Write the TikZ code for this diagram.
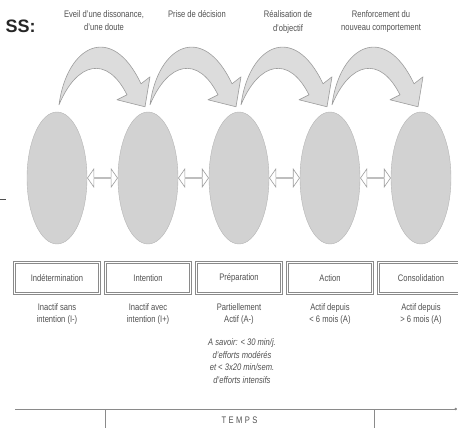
\documentclass[tikz,border=0pt]{standalone}
\usepackage{fontspec}
\setmainfont{Liberation Sans}[FakeStretch=0.8]
\newfontfamily\headfont{Liberation Sans}
\usetikzlibrary{positioning,arrows.meta,shapes.geometric,shapes.arrows,calc}
\definecolor{inkgray}{HTML}{505050}
\definecolor{stagefill}{HTML}{D2D2D2}
\definecolor{stageline}{HTML}{B4B4B4}
\definecolor{bendfill}{HTML}{DCDCDC}
\definecolor{bendline}{HTML}{9C9C9C}
\definecolor{boxline}{HTML}{8A8A8A}
\tikzset{
  stage/.style={ellipse, draw=stageline, fill=stagefill, minimum width=60pt, minimum height=132pt, inner sep=0pt},
  linkarrow/.style={double arrow, draw=bendline, fill=white, line width=0.6pt, minimum width=18pt, minimum height=30pt, double arrow head extend=4.5pt, double arrow tip angle=110, inner sep=0pt},
  phasebox/.style={draw=boxline, double, double distance=1.4pt, line width=0.7pt, minimum width=85pt, minimum height=31pt, font=\fontsize{9.5}{12}\selectfont, text=inkgray},
  desc/.style={align=center, font=\fontsize{9.5}{12}\selectfont, text=inkgray},
  toplabel/.style={align=center, anchor=north, font=\fontsize{9.5}{13.5}\selectfont, text=inkgray},
  curvearrow/.style={draw=bendline, fill=bendfill, line width=0.6pt, line join=round}
}

\begin{document}
\begin{tikzpicture}[x=1pt, y=-1pt]
  \clip (0,0) rectangle (458,428);
  % stages
  \foreach \i/\x in {1/57,2/148,3/239,4/330,5/421}
    \node[stage] (e\i) at (\x,178) {};
  \foreach \i [count=\j from 2] in {1,...,4}
    \node[linkarrow] (l\i) at ($(e\i.east)!0.5!(e\j.west)$) {};
  % curved arrows
  \foreach \i in {1,...,4}
    \draw[curvearrow, shift={(e\i.north)}] (2,-7) .. controls (10,-67) and (55,-90) .. (84,-28)
      -- (93,-35) -- (88,-5) -- (60,-12) -- (70,-17) .. controls (50,-57) and (20,-50) .. (2,-7) -- cycle;
  % labels above
  \node[anchor=west, font=\headfont\bfseries\fontsize{18}{20}\selectfont, text=black!85] (hd) at (2,26) {SS:};
  \node[toplabel] (t1) at (104,7) {Eveil d'une dissonance,\\d'une doute};
  \node[toplabel] (t2) at (197,7) {Prise de décision};
  \node[toplabel] (t3) at (288,7) {Réalisation de\\d'objectif};
  \node[toplabel] (t4) at (381,7) {Renforcement du\\nouveau comportement};
  \coordinate (tk) at (0,199);
  \draw[inkgray, line width=0.8pt] (tk) -- ++(6,0);
  % phases
  \foreach \i/\t in {1/Indétermination,2/Intention,3/Préparation,4/Action,5/Consolidation}
    \node[phasebox, below=18pt of e\i] (b\i) {\t};
  \node[desc, below=6pt of b1] (d1) {Inactif sans\\intention (I-)};
  \node[desc, below=6pt of b2] (d2) {Inactif avec\\intention (I+)};
  \node[desc, below=6pt of b3] (d3) {Partiellement\\Actif (A-)};
  \node[desc, below=6pt of b4] (d4) {Actif depuis\\< 6 mois (A)};
  \node[desc, below=6pt of b5] (d5) {Actif depuis\\> 6 mois (A)};
  \node[desc, font=\itshape\fontsize{9.5}{12.8}\selectfont, below=7pt of d3, xshift=3pt] (n3)
    {A savoir: < 30 min/j.\\d'efforts modérés\\et < 3x20 min/sem.\\d'efforts intensifs};
  % time axis
  \coordinate (ta) at (15,409);
  \coordinate (tb) at (457,409);
  \coordinate (v1) at (105,409);
  \coordinate (v2) at (374,409);
  \draw[boxline, line width=0.8pt, -{Circle[length=2.5pt]}] (ta) -- (tb);
  \draw[boxline, line width=0.8pt] (v1) -- ++(0,20) (v2) -- ++(0,20);
  \node[text=inkgray, font=\fontsize{9.5}{11}\selectfont] (tm) at ($(v1)!0.5!(v2)+(0,11)$) {\addfontfeature{LetterSpace=25}TEMPS};
\end{tikzpicture}
\end{document}
